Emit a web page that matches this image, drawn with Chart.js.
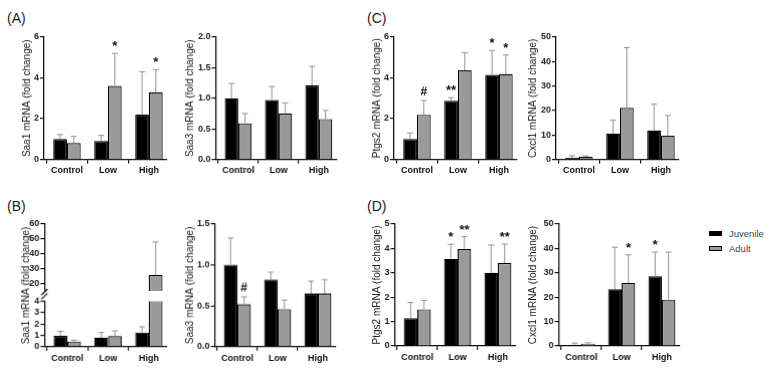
<!DOCTYPE html>
<html>
<head>
<meta charset="utf-8">
<script src="https://cdn.jsdelivr.net/npm/chart.js@4.4.1/dist/chart.umd.min.js"></script>
<style>
html, body { margin: 0; padding: 0; background: #fff; }
body { position: relative; width: 772px; height: 374px; overflow: hidden; font-family: "Liberation Sans", Arial, sans-serif; }
.pl { position: absolute; font-size: 14px; line-height: 14px; color: #222; }
.wrap { position: absolute; }
.box { position: absolute; box-sizing: border-box; width: 13px; height: 5px; border: 1.2px solid #000; }
.lg { position: absolute; font-size: 9.5px; line-height: 10px; color: #444; }
</style>
</head>
<body>
<div class="pl" style="left:7px;top:11px">(A)</div>
<div class="pl" style="left:7px;top:199px">(B)</div>
<div class="pl" style="left:367px;top:11px">(C)</div>
<div class="pl" style="left:367px;top:199px">(D)</div>
<div id="legend"></div>

<script>
const groups = ["Control", "Low", "High"];
const seriesNames = ["Juvenile", "Adult"];
const seriesFills = ["#000000", "#9a9a9a"];

// (A) Saa1
const saa1AJuv = [1.0, 0.9, 2.2];
const saa1AJuvErr = [0.22, 0.28, 2.1];
const saa1AAdult = [0.8, 3.6, 3.3];
const saa1AAdultErr = [0.33, 1.6, 1.1];
const saa1AAdultSig = ["", "*", "*"];
const saa1ATicks = [0, 2, 4, 6];

// (A) Saa3
const saa3AJuv = [1.0, 0.97, 1.21];
const saa3AJuvErr = [0.24, 0.22, 0.31];
const saa3AAdult = [0.59, 0.75, 0.66];
const saa3AAdultErr = [0.16, 0.17, 0.14];
const saa3ATicks = [0, 0.5, 1.0, 1.5, 2.0];

// (C) Ptgs2
const ptgs2CJuv = [1.0, 2.88, 4.15];
const ptgs2CJuvErr = [0.3, 0.15, 1.2];
const ptgs2CJuvSig = ["", "**", "*"];
const ptgs2CAdult = [2.19, 4.37, 4.18];
const ptgs2CAdultErr = [0.7, 0.86, 0.94];
const ptgs2CAdultSig = ["#", "", "*"];
const ptgs2CTicks = [0, 2, 4, 6];

// (C) Cxcl1
const cxcl1CJuv = [0.7, 10.6, 11.8];
const cxcl1CJuvErr = [0.8, 5.4, 10.8];
const cxcl1CAdult = [1.0, 21.1, 9.7];
const cxcl1CAdultErr = [0.4, 24.6, 8.3];
const cxcl1CTicks = [0, 10, 20, 30, 40, 50];

// (B) Saa1 (broken axis)
const saa1BJuv = [0.95, 0.8, 1.25];
const saa1BJuvErr = [0.4, 0.45, 0.5];
const saa1BAdult = [0.45, 0.92, 26];
const saa1BAdultErr = [0.1, 0.47, 22];
const saa1BLowTicks = [0, 1, 2, 3, 4];
const saa1BHighTicks = [20, 30, 40, 50, 60];

// (B) Saa3
const saa3BJuv = [1.0, 0.82, 0.65];
const saa3BJuvErr = [0.33, 0.09, 0.15];
const saa3BAdult = [0.52, 0.46, 0.65];
const saa3BAdultErr = [0.09, 0.11, 0.17];
const saa3BAdultSig = ["#", "", ""];
const saa3BTicks = [0, 0.5, 1.0, 1.5];

// (D) Ptgs2
const ptgs2DJuv = [1.14, 3.57, 3.0];
const ptgs2DJuvErr = [0.64, 0.6, 1.14];
const ptgs2DJuvSig = ["", "*", ""];
const ptgs2DAdult = [1.5, 3.98, 3.4];
const ptgs2DAdultErr = [0.37, 0.5, 0.78];
const ptgs2DAdultSig = ["", "**", "**"];
const ptgs2DTicks = [0, 1, 2, 3, 4, 5];

// (D) Cxcl1
const cxcl1DJuv = [0.5, 23.3, 28.6];
const cxcl1DJuvErr = [0.7, 17.2, 9.9];
const cxcl1DJuvSig = ["", "", "*"];
const cxcl1DAdult = [0.9, 25.8, 19.0];
const cxcl1DAdultErr = [0.4, 11.6, 19.5];
const cxcl1DAdultSig = ["", "*", ""];
const cxcl1DTicks = [0, 10, 20, 30, 40, 50];

const xMin = -0.56, xMax = 2.44;
const FONT = "'Liberation Sans', Arial, sans-serif";
Chart.defaults.font.family = FONT;

// up-only error bars plus significance marks
const errorBars = {
    id: "errorBars",
    afterDatasetsDraw(chart) {
        const ctx = chart.ctx;
        const y = chart.scales.y;
        chart.data.datasets.forEach((ds, i) => {
            chart.getDatasetMeta(i).data.forEach((bar, j) => {
                const v = ds.data[j].y;
                if (v == null || v > y.max || v < y.min) return;
                const top = y.getPixelForValue(v + ds.errors[j]);
                ctx.save();
                ctx.strokeStyle = "#939393";
                ctx.lineWidth = 1;
                ctx.beginPath();
                ctx.moveTo(bar.x, bar.y);
                ctx.lineTo(bar.x, top);
                ctx.moveTo(bar.x - 3, top);
                ctx.lineTo(bar.x + 3, top);
                ctx.stroke();
                const mark = ds.marks ? ds.marks[j] : "";
                if (mark) {
                    ctx.fillStyle = "#111";
                    ctx.textAlign = "center";
                    ctx.textBaseline = "alphabetic";
                    if (mark === "#") {
                        ctx.font = "bold 12px " + FONT;
                        ctx.fillText(mark, bar.x, top - 5);
                    } else {
                        ctx.font = "bold 13px " + FONT;
                        ctx.fillText(mark, bar.x, top - 3);
                    }
                }
                ctx.restore();
            });
        });
    }
};

function breakMark(where) {
    return {
        id: "break_" + where,
        afterDraw(chart) {
            const a = chart.chartArea, c = chart.ctx;
            const y0 = where === "bottom" ? a.bottom + 1 : a.top - 5;
            c.save();
            c.strokeStyle = "#111";
            c.lineWidth = 1.2;
            c.beginPath();
            c.moveTo(a.left - 3, y0 + 3);
            c.lineTo(a.left + 3, y0 - 3);
            c.stroke();
            c.restore();
        }
    };
}

function makeSet(k, vals, errs, marks) {
    return {
        label: seriesNames[k],
        data: vals.map((v, i) => ({ x: i, y: v })),
        errors: errs,
        marks: marks || null,
        backgroundColor: seriesFills[k],
        borderColor: "#000",
        borderWidth: 1.2,
        barPercentage: 1,
        categoryPercentage: 0.67,
        clip: 0
    };
}

function addPanel(p) {
    const padTop = p.padTop || 8;
    const cl = p.titleX - 6;
    const ct = p.t - padTop;
    const padBottom = p.hideX ? 8 : 0;
    const xH = p.hideX ? 0 : 22;
    const yW = p.l - cl;
    const w = p.r - cl + 6;
    const h = p.b - ct + xH + padBottom;
    const wrap = document.createElement("div");
    wrap.className = "wrap";
    wrap.style.left = cl + "px";
    wrap.style.top = ct + "px";
    wrap.style.width = w + "px";
    wrap.style.height = h + "px";
    const cv = document.createElement("canvas");
    wrap.appendChild(cv);
    document.body.appendChild(wrap);

    return new Chart(cv, {
        type: "bar",
        data: {
            datasets: [
                makeSet(0, p.juv, p.juvErr, p.juvSig),
                makeSet(1, p.adult, p.adultErr, p.adultSig)
            ]
        },
        options: {
            responsive: true,
            maintainAspectRatio: false,
            animation: false,
            layout: { padding: { top: padTop, right: 6, bottom: padBottom, left: 0 } },
            plugins: { legend: { display: false }, tooltip: { enabled: false } },
            scales: {
                x: {
                    type: "linear",
                    display: !p.hideX,
                    min: xMin,
                    max: xMax,
                    offset: false,
                    afterBuildTicks: s => { s.ticks = groups.map((g, i) => ({ value: i })); },
                    afterFit: s => { s.height = xH; },
                    ticks: {
                        callback: v => groups[v],
                        autoSkip: false,
                        maxRotation: 0,
                        padding: 2,
                        color: "#111",
                        font: { size: 9, weight: "bold" }
                    },
                    grid: { drawOnChartArea: false, tickLength: 4, color: "#111", lineWidth: 1.2 },
                    border: { color: "#111", width: 1.3 }
                },
                y: {
                    min: p.min,
                    max: p.max,
                    afterBuildTicks: s => { s.ticks = p.ticks.map(v => ({ value: v })); },
                    afterFit: s => { s.width = yW; },
                    ticks: {
                        callback: v => v.toFixed(p.dec || 0),
                        autoSkip: false,
                        padding: 1,
                        color: "#222",
                        font: { size: 9, weight: "bold" }
                    },
                    grid: { drawOnChartArea: false, tickLength: 4, color: "#111", lineWidth: 1.2 },
                    border: { color: "#111", width: 1.3 },
                    title: {
                        display: !!p.title && !p.ownTitle,
                        text: p.title,
                        color: "#222",
                        padding: 0,
                        font: { size: 10 }
                    }
                }
            }
        },
        plugins: [errorBars].concat(p.plugins || [])
    });
}

// (A)
addPanel({ titleX: 27, l: 44, r: 167, t: 37, b: 158.5, min: 0, max: 6, ticks: saa1ATicks,
    title: "Saa1 mRNA (fold change)",
    juv: saa1AJuv, juvErr: saa1AJuvErr, adult: saa1AAdult, adultErr: saa1AAdultErr, adultSig: saa1AAdultSig });
addPanel({ titleX: 190, l: 215.5, r: 335.5, t: 37, b: 158.5, min: 0, max: 2, ticks: saa3ATicks, dec: 1,
    title: "Saa3 mRNA (fold change)",
    juv: saa3AJuv, juvErr: saa3AJuvErr, adult: saa3AAdult, adultErr: saa3AAdultErr });
// (C)
addPanel({ titleX: 377, l: 394, r: 517, t: 37, b: 158.5, min: 0, max: 6, ticks: ptgs2CTicks,
    title: "Ptgs2 mRNA (fold change)",
    juv: ptgs2CJuv, juvErr: ptgs2CJuvErr, juvSig: ptgs2CJuvSig,
    adult: ptgs2CAdult, adultErr: ptgs2CAdultErr, adultSig: ptgs2CAdultSig });
addPanel({ titleX: 533, l: 556, r: 679, t: 37, b: 158.5, min: 0, max: 50, ticks: cxcl1CTicks,
    title: "Cxcl1 mRNA (fold change)",
    juv: cxcl1CJuv, juvErr: cxcl1CJuvErr, adult: cxcl1CAdult, adultErr: cxcl1CAdultErr });

// (B) Saa1 with a broken y axis: lower 0-4, upper 20-60
const upperMin = 15.3;
const bTitle = {
    id: "bTitle",
    afterDraw(chart) {
        const c = chart.ctx;
        c.save();
        c.translate(6, 285 - 216);
        c.rotate(-Math.PI / 2);
        c.fillStyle = "#222";
        c.font = "10px " + FONT;
        c.textAlign = "center";
        c.textBaseline = "middle";
        c.fillText("Saa1 mRNA (fold change)", 0, 0);
        c.restore();
    }
};
addPanel({ titleX: 26, l: 44.3, r: 165.8, t: 300.7, b: 345.7, padTop: 84.7, min: 0, max: 4, ticks: saa1BLowTicks,
    title: "Saa1 mRNA (fold change)", ownTitle: true, plugins: [bTitle, breakMark("top")],
    juv: saa1BJuv, juvErr: saa1BJuvErr, adult: saa1BAdult, adultErr: saa1BAdultErr });
addPanel({ titleX: 26, l: 44.3, r: 165.8, t: 224, b: 291, min: upperMin, max: 60, ticks: saa1BHighTicks,
    hideX: true, plugins: [breakMark("bottom")],
    juv: saa1BJuv.map(v => v >= upperMin ? v : null), juvErr: saa1BJuvErr,
    adult: saa1BAdult.map(v => v >= upperMin ? v : null), adultErr: saa1BAdultErr });

addPanel({ titleX: 190, l: 214.6, r: 334.6, t: 224.3, b: 346, min: 0, max: 1.5, ticks: saa3BTicks, dec: 1,
    title: "Saa3 mRNA (fold change)",
    juv: saa3BJuv, juvErr: saa3BJuvErr, adult: saa3BAdult, adultErr: saa3BAdultErr, adultSig: saa3BAdultSig });
// (D)
addPanel({ titleX: 377, l: 394.6, r: 514.6, t: 224, b: 346, min: 0, max: 5, ticks: ptgs2DTicks,
    title: "Ptgs2 mRNA (fold change)",
    juv: ptgs2DJuv, juvErr: ptgs2DJuvErr, juvSig: ptgs2DJuvSig,
    adult: ptgs2DAdult, adultErr: ptgs2DAdultErr, adultSig: ptgs2DAdultSig });
addPanel({ titleX: 533, l: 558.6, r: 678.6, t: 224, b: 346, min: 0, max: 50, ticks: cxcl1DTicks,
    title: "Cxcl1 mRNA (fold change)",
    juv: cxcl1DJuv, juvErr: cxcl1DJuvErr, juvSig: cxcl1DJuvSig,
    adult: cxcl1DAdult, adultErr: cxcl1DAdultErr, adultSig: cxcl1DAdultSig });

// legend
const legend = document.getElementById("legend");
seriesNames.forEach((name, k) => {
    const box = document.createElement("div");
    box.className = "box";
    box.style.left = "709px";
    box.style.top = (231 + k * 15) + "px";
    box.style.background = seriesFills[k];
    legend.appendChild(box);
    const txt = document.createElement("div");
    txt.className = "lg";
    txt.style.left = "729px";
    txt.style.top = (228.5 + k * 15) + "px";
    txt.textContent = name;
    legend.appendChild(txt);
});
</script>
</body>
</html>
